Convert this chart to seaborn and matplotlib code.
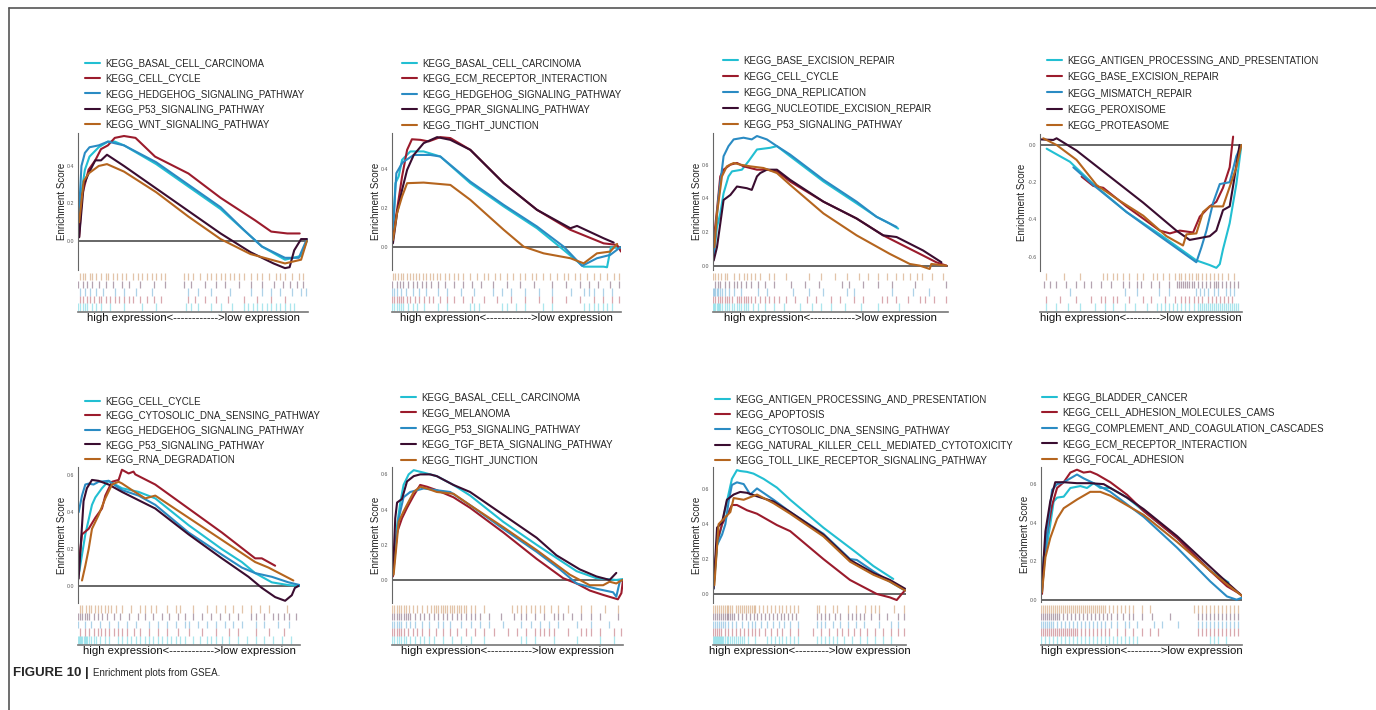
import matplotlib
matplotlib.use("Agg")
import matplotlib.pyplot as plt
import seaborn as sns
import pandas as pd
from matplotlib.lines import Line2D

sns.set_theme(style="white")
plt.rcParams['font.family'] = ['Liberation Sans', 'DejaVu Sans']

# ---------------- data ----------------
COLORS = ["#22BFD2", "#9B1B2C", "#2A8BC3", "#3A0D30", "#B5651E"]

P1_LABELS = ["KEGG_BASAL_CELL_CARCINOMA", "KEGG_CELL_CYCLE", "KEGG_HEDGEHOG_SIGNALING_PATHWAY",
             "KEGG_P53_SIGNALING_PATHWAY", "KEGG_WNT_SIGNALING_PATHWAY"]
P1_X = [[0.5, 1.5, 3, 5, 9, 13, 16, 20, 34, 48, 62, 71, 80, 90, 97, 99.5],
        [0.5, 1.7, 4.6, 7.5, 10, 13, 16, 20, 25, 33.5, 48, 62, 77, 84, 91, 96.4],
        [0.3, 1.5, 3, 5, 9, 13, 20, 34, 48, 62, 72, 80, 90, 96, 99.5],
        [0.5, 2.5, 4.6, 7.5, 10, 12.6, 20, 34, 48, 62, 75, 85, 90, 92, 94, 97, 99.5],
        [0.5, 2.5, 4.6, 9, 12.6, 20, 34, 48, 62, 75, 90, 97, 99.5]]
P1_ES = [[0.10, 0.26, 0.38, 0.45, 0.50, 0.53, 0.53, 0.51, 0.41, 0.29, 0.17, 0.07, -0.03, -0.10, -0.08, 0.00],
         [0.02, 0.24, 0.38, 0.43, 0.49, 0.51, 0.55, 0.56, 0.55, 0.45, 0.36, 0.23, 0.11, 0.05, 0.04, 0.04],
         [0.12, 0.40, 0.47, 0.50, 0.51, 0.53, 0.51, 0.42, 0.30, 0.18, 0.06, -0.03, -0.09, -0.09, 0.01],
         [0.02, 0.30, 0.36, 0.43, 0.43, 0.46, 0.40, 0.28, 0.16, 0.04, -0.06, -0.12, -0.145, -0.14, -0.05, 0.01, 0.01],
         [0.10, 0.32, 0.36, 0.40, 0.41, 0.37, 0.26, 0.13, 0.01, -0.07, -0.12, -0.10, 0.0]]
P1_RUG = [[0, 1, 2, 3, 4, 6, 8, 10, 14, 20, 28, 34, 47, 49, 52, 58, 62, 67, 72, 74, 76, 78, 80, 82, 84, 86, 88, 90, 92, 94],
          [1, 2, 4, 5, 7, 9, 10, 12, 14, 16, 18, 20, 22, 24, 27, 30, 33, 36, 48, 51, 55, 60, 65, 72, 78, 84, 90],
          [1, 3, 5, 8, 11, 16, 20, 25, 32, 48, 52, 58, 66, 75, 80, 84, 88, 93, 97, 99],
          [0, 2, 4, 6, 9, 12, 15, 19, 22, 27, 33, 38, 46, 49, 55, 60, 64, 70, 75, 80, 85, 89, 92, 95, 98],
          [1, 2, 3, 5, 6, 8, 10, 12, 13, 15, 17, 19, 21, 24, 26, 28, 30, 32, 34, 36, 38, 46, 48, 50, 53, 56, 58,
           60, 62, 64, 66, 68, 70, 72, 75, 78, 80, 83, 86, 88, 90, 93, 96, 98]]

P2_LABELS = ["KEGG_BASAL_CELL_CARCINOMA", "KEGG_ECM_RECEPTOR_INTERACTION", "KEGG_HEDGEHOG_SIGNALING_PATHWAY",
             "KEGG_PPAR_SIGNALING_PATHWAY", "KEGG_TIGHT_JUNCTION"]
P2_X = [[0.4, 1.5, 2.9, 4.4, 8.0, 13.8, 21.1, 34.2, 48.8, 63.3, 75.0, 83.7, 92.4, 93.9, 95.6, 99.7],
        [0.4, 2.2, 4.4, 6.6, 8.7, 12.4, 16.0, 21.1, 25.5, 34.2, 48.8, 63.3, 77.9, 92.4, 98.3, 100],
        [0.4, 1.9, 4.4, 5.1, 9.5, 16.7, 21.1, 34.2, 48.8, 63.3, 75.0, 83.0, 89.5, 95.3, 99.7],
        [0.4, 2.2, 4.4, 6.6, 9.5, 13.8, 19.7, 25.5, 34.2, 48.8, 63.3, 77.9, 80.8, 92.4, 96.8],
        [0.4, 2.2, 4.4, 6.6, 13.8, 25.5, 34.2, 48.8, 57.5, 66.2, 77.9, 83.7, 89.5, 95.3, 98.3]]
P2_ES = [[0.054, 0.327, 0.361, 0.446, 0.489, 0.489, 0.463, 0.327, 0.208, 0.097, -0.014, -0.099, -0.099, -0.102, 0.0, -0.005],
         [0.054, 0.191, 0.361, 0.497, 0.551, 0.548, 0.540, 0.562, 0.557, 0.497, 0.327, 0.191, 0.089, 0.020, 0.012, -0.022],
         [0.089, 0.378, 0.429, 0.437, 0.471, 0.471, 0.463, 0.335, 0.216, 0.106, 0.003, -0.095, -0.056, -0.039, 0.0],
         [0.020, 0.174, 0.293, 0.395, 0.471, 0.531, 0.562, 0.548, 0.497, 0.327, 0.191, 0.097, 0.109, 0.046, 0.024],
         [0.037, 0.174, 0.259, 0.327, 0.330, 0.318, 0.242, 0.089, 0.003, -0.031, -0.056, -0.082, -0.031, -0.022, 0.017]]
P2_RUG = [[0, 1, 2, 3, 4, 5, 7, 9, 11, 14, 20, 24, 34, 36, 38, 48, 50, 54, 58, 66, 70, 84, 86, 88, 90, 92, 94, 96],
          [0, 1, 2, 3, 4, 5, 6.5, 8, 10, 12, 14, 16, 18, 21, 24, 27, 31, 35, 40, 46, 52, 58, 64, 70, 76, 82, 88, 92, 96, 99],
          [0, 1, 2, 4, 6, 9, 12, 15, 20, 24, 30, 36, 44, 48, 52, 58, 64, 70, 78, 84, 86, 88, 92, 96],
          [0, 2, 3.5, 5, 7, 9, 11, 13, 15, 17, 20, 23, 27, 31, 35, 39, 44, 50, 56, 62, 70, 76, 82, 86, 90, 95, 99],
          [0.5, 1.5, 2.5, 4, 5, 6.5, 8, 9, 10.5, 12, 13.5, 15, 16.5, 18, 19.5, 21, 23, 25, 27, 29, 31, 34, 37, 40, 42,
           45, 47, 50, 53, 56, 58, 61, 63, 66, 69, 72, 75, 77, 80, 82, 85, 88, 91, 94, 97, 99]]

P3_LABELS = ["KEGG_BASE_EXCISION_REPAIR", "KEGG_CELL_CYCLE", "KEGG_DNA_REPLICATION",
             "KEGG_NUCLEOTIDE_EXCISION_REPAIR", "KEGG_P53_SIGNALING_PATHWAY"]
P3_X = [[0.3, 1.7, 3.1, 4.5, 6.6, 8.1, 12.3, 15.1, 18.7, 24.3, 27.2, 32.8, 47.0, 61.1, 69.6, 75.2, 78.8],
        [0.3, 1.7, 3.1, 4.5, 7.4, 10.2, 13.0, 18.7, 22.9, 27.2, 32.8, 47.0, 61.1, 72.4, 82.3, 89.4, 95.0, 99.3],
        [0.3, 2.4, 4.5, 6.6, 8.8, 13.0, 16.5, 18.7, 22.9, 27.2, 32.8, 47.0, 61.1, 69.6, 75.2, 78.1],
        [0.3, 1.7, 3.1, 4.5, 7.4, 10.2, 14.4, 16.5, 18.7, 20.1, 22.9, 27.2, 32.8, 47.0, 61.1, 72.4, 78.1, 89.4, 97.2],
        [0.6, 1.7, 3.8, 5.9, 8.8, 11.6, 15.8, 21.5, 27.2, 32.8, 47.0, 61.1, 75.2, 83.7, 88.0, 92.2, 92.9, 99.3]]
P3_ES = [[0.05, 0.23, 0.31, 0.43, 0.53, 0.56, 0.57, 0.62, 0.69, 0.70, 0.71, 0.65, 0.50, 0.37, 0.29, 0.25, 0.22],
         [0.15, 0.33, 0.53, 0.57, 0.60, 0.61, 0.59, 0.57, 0.57, 0.56, 0.50, 0.38, 0.28, 0.18, 0.11, 0.06, 0.02, 0.0],
         [0.07, 0.41, 0.65, 0.71, 0.75, 0.76, 0.75, 0.77, 0.75, 0.71, 0.66, 0.51, 0.38, 0.29, 0.25, 0.23],
         [0.03, 0.11, 0.25, 0.39, 0.42, 0.47, 0.46, 0.45, 0.53, 0.55, 0.57, 0.57, 0.51, 0.38, 0.28, 0.18, 0.17, 0.09, 0.02],
         [0.11, 0.31, 0.53, 0.59, 0.61, 0.60, 0.59, 0.58, 0.55, 0.48, 0.31, 0.18, 0.07, 0.01, 0.0, -0.02, 0.01, 0.0]]
P3_RUG = [[0, 0.5, 1, 1.5, 2, 2.5, 3, 4, 5, 6, 7, 8, 9, 10, 11, 12, 13, 14, 15, 17, 19, 22, 26, 30, 37, 42, 46, 50, 56, 63, 70, 79],
          [0, 1, 2, 3, 4, 5, 6, 7, 8, 10, 11, 12, 13, 14, 15, 16, 18, 20, 22, 24, 26, 28, 31, 35, 40, 44, 50, 54, 60, 64,
           72, 74, 78, 83, 88, 90, 94, 99],
          [0, 0.5, 1, 1.5, 2, 3, 4, 5, 7, 9, 12, 19, 23, 34, 41, 47, 57, 60, 76, 85, 92],
          [1, 2, 3, 5, 7, 9, 10, 12, 14, 16, 19, 22, 26, 33, 39, 45, 55, 58, 64, 70, 76, 86, 99],
          [0, 1, 2, 3.5, 5, 6, 9, 11, 13, 14.5, 16, 18, 20, 24, 26, 31, 41, 46, 52, 57, 62, 66, 70, 74, 78, 81, 84,
           87, 89, 93, 98]]

P4_LABELS = ["KEGG_ANTIGEN_PROCESSING_AND_PRESENTATION", "KEGG_BASE_EXCISION_REPAIR", "KEGG_MISMATCH_REPAIR",
             "KEGG_PEROXISOME", "KEGG_PROTEASOME"]
P4_X = [[3.3, 8.2, 14.8, 26.4, 42.8, 59.3, 77.4, 84.0, 87.3, 89.0, 90.6, 93.9, 97.2, 99.7],
        [20.6, 26.4, 31.3, 42.8, 59.3, 64.3, 69.2, 75.8, 79.1, 84.0, 87.3, 90.6, 93.9, 95.6],
        [16.5, 26.4, 42.8, 59.3, 77.4, 79.9, 82.4, 85.7, 89.0, 93.9, 97.2, 99.7],
        [0, 6.6, 8.2, 18.1, 34.6, 51.1, 67.5, 74.1, 79.1, 84.0, 87.3, 90.6, 93.9, 95.6, 98.8],
        [1.6, 8.2, 18.1, 28.0, 39.5, 51.1, 62.6, 70.8, 72.5, 77.4, 80.7, 84.0, 90.6, 94.7, 97.2, 99.7]]
P4_ES = [[-0.02, -0.05, -0.09, -0.21, -0.36, -0.48, -0.62, -0.645, -0.66, -0.64, -0.56, -0.42, -0.21, 0.0],
         [-0.17, -0.22, -0.23, -0.33, -0.46, -0.475, -0.46, -0.47, -0.385, -0.33, -0.305, -0.23, -0.12, 0.045],
         [-0.12, -0.215, -0.36, -0.49, -0.63, -0.55, -0.46, -0.31, -0.21, -0.20, -0.06, 0.0],
         [0.03, 0.027, 0.036, -0.03, -0.17, -0.31, -0.46, -0.51, -0.50, -0.49, -0.46, -0.35, -0.33, -0.22, 0.0],
         [0.036, 0.0, -0.08, -0.215, -0.30, -0.38, -0.49, -0.54, -0.48, -0.475, -0.36, -0.33, -0.33, -0.20, -0.12, 0.0]]
P4_RUG = [[3, 8, 14, 20, 27, 32, 36, 42, 47, 53, 58, 60, 62, 64, 66, 68, 70, 72, 74, 76, 78, 79, 80, 81, 82, 83, 84, 85,
           86, 87, 88, 89, 90, 91, 92, 93, 94, 95, 96, 97, 98],
          [3, 10, 18, 25, 30, 32, 36, 38, 44, 51, 55, 62, 67, 70, 72, 74, 76, 78, 80, 83, 85, 87, 89, 91, 93, 95],
          [15, 42, 48, 59, 64, 77, 79, 81, 83, 86, 88, 92, 94, 96],
          [2, 5, 8, 13, 18, 22, 25, 30, 35, 41, 44, 48, 50, 55, 59, 64, 68, 69, 70, 71, 72, 73, 74, 75, 76, 78, 80, 82,
           84, 86, 87, 88, 90, 92, 94, 96, 98],
          [3, 12, 20, 31, 33, 36, 38, 41, 44, 48, 51, 56, 58, 61, 64, 67, 69, 70, 72, 74, 75, 77, 78, 80, 82, 84, 86, 88,
           90, 93, 96]]

P5_LABELS = ["KEGG_CELL_CYCLE", "KEGG_CYTOSOLIC_DNA_SENSING_PATHWAY", "KEGG_HEDGEHOG_SIGNALING_PATHWAY",
             "KEGG_P53_SIGNALING_PATHWAY", "KEGG_RNA_DEGRADATION"]
P5_X = [[0.6, 3.3, 6.3, 7.8, 10.8, 13.8, 19.8, 27.3, 34.8, 49.8, 64.8, 73.8, 79.8, 87.3, 94.8, 100],
        [0.3, 1.8, 4.8, 7.8, 10.8, 12.3, 15.3, 18.3, 19.8, 22.8, 25.0, 25.8, 34.8, 49.8, 64.8, 79.8, 82.8, 88.8],
        [0.3, 1.8, 3.3, 4.8, 7.0, 9.3, 13.8, 19.8, 27.3, 34.8, 49.8, 64.8, 73.8, 79.8, 87.3, 94.8, 100],
        [0.3, 2.5, 4.0, 6.3, 9.3, 13.8, 19.8, 34.8, 49.8, 64.8, 76.8, 82.8, 88.8, 93.3, 96.3, 97.7, 99.3],
        [1.8, 3.3, 4.8, 6.3, 9.3, 12.3, 15.3, 18.3, 19.8, 24.3, 30.3, 34.8, 49.8, 64.8, 79.8, 85.8, 97.0]]
P5_ES = [[0.08, 0.28, 0.44, 0.48, 0.53, 0.57, 0.53, 0.51, 0.475, 0.33, 0.20, 0.13, 0.07, 0.02, 0.005, 0.0],
         [0.11, 0.28, 0.31, 0.37, 0.42, 0.49, 0.565, 0.575, 0.63, 0.61, 0.62, 0.605, 0.55, 0.42, 0.29, 0.15, 0.15, 0.11],
         [0.40, 0.49, 0.55, 0.555, 0.55, 0.565, 0.57, 0.52, 0.49, 0.44, 0.29, 0.17, 0.10, 0.07, 0.05, 0.02, 0.005],
         [0.04, 0.46, 0.53, 0.575, 0.57, 0.55, 0.51, 0.42, 0.28, 0.15, 0.05, -0.01, -0.06, -0.08, -0.05, -0.01, 0.0],
         [0.03, 0.11, 0.20, 0.31, 0.385, 0.475, 0.55, 0.565, 0.556, 0.52, 0.475, 0.49, 0.37, 0.25, 0.13, 0.10, 0.03]]
P5_RUG = [[0, 0.5, 1, 1.5, 2, 2.5, 3, 3.5, 4, 5, 6, 7, 8, 10, 12, 14, 18, 20, 22, 24, 26, 28, 30, 32, 34, 36, 38, 40,
           42, 44, 46, 48, 52, 55, 58, 60, 62, 65, 68, 72, 76, 80, 84, 88, 92, 96],
          [1, 3, 5, 7, 9, 10.5, 12, 14, 16, 18, 20, 22, 25, 28, 32, 36, 40, 45, 50, 56, 62, 68, 72, 80, 86, 93],
          [0, 3, 6, 10, 14, 18, 22, 26, 32, 36, 40, 44, 48, 50, 54, 58, 62, 66, 70, 74, 80, 84, 90, 95],
          [0, 1, 2, 3, 4, 5, 7, 9, 11, 13, 16, 19, 23, 27, 30, 34, 38, 41, 45, 48, 52, 56, 60, 64, 68, 72, 78, 80, 84,
           88, 90, 93, 95, 98],
          [1, 2, 3.5, 5, 6, 7.5, 9, 10.5, 12, 13.5, 15, 17, 20, 24, 28, 30, 33, 35, 40, 44, 46, 52, 58, 62, 66, 70, 74,
           78, 82, 86, 94]]

P6_LABELS = ["KEGG_BASAL_CELL_CARCINOMA", "KEGG_MELANOMA", "KEGG_P53_SIGNALING_PATHWAY",
             "KEGG_TGF_BETA_SIGNALING_PATHWAY", "KEGG_TIGHT_JUNCTION"]
P6_X = [[0.4, 2.2, 3.6, 5.0, 7.2, 9.4, 13.7, 19.4, 26.6, 33.8, 48.2, 62.6, 74.1, 79.9, 88.5, 97.1, 100],
        [0.4, 2.2, 4.3, 6.5, 9.4, 12.2, 15.1, 19.4, 26.6, 33.8, 48.2, 62.6, 74.1, 79.9, 85.6, 91.4, 97.8, 99.3, 100],
        [0.4, 2.9, 5.0, 7.9, 13.7, 19.4, 25.2, 33.8, 48.2, 62.6, 72.7, 79.9, 88.5, 95.7, 97.1, 98.6, 99.7],
        [0.4, 1.4, 2.2, 4.3, 6.5, 9.4, 12.2, 16.5, 19.4, 26.6, 33.8, 48.2, 62.6, 71.2, 81.3, 88.5, 94.2, 97.1],
        [0.7, 2.9, 5.0, 7.2, 9.4, 12.2, 15.1, 19.4, 26.6, 33.8, 48.2, 62.6, 77.0, 85.6, 91.4, 94.2, 97.1, 99.7]]
P6_ES = [[0.05, 0.31, 0.44, 0.54, 0.60, 0.624, 0.61, 0.59, 0.54, 0.48, 0.33, 0.20, 0.10, 0.05, 0.01, 0.0, 0.005],
         [0.02, 0.27, 0.35, 0.41, 0.48, 0.54, 0.53, 0.51, 0.47, 0.41, 0.27, 0.12, 0.01, -0.02, -0.06, -0.085, -0.11, -0.075, 0.0],
         [0.05, 0.35, 0.47, 0.50, 0.52, 0.51, 0.50, 0.425, 0.29, 0.16, 0.06, -0.02, -0.05, -0.07, -0.095, -0.01, 0.0],
         [0.03, 0.35, 0.44, 0.46, 0.56, 0.59, 0.60, 0.60, 0.59, 0.54, 0.50, 0.37, 0.24, 0.14, 0.06, 0.02, 0.0, 0.04],
         [0.03, 0.33, 0.39, 0.445, 0.50, 0.53, 0.52, 0.50, 0.49, 0.425, 0.30, 0.17, 0.03, -0.03, -0.03, -0.01, -0.02, 0.0]]
P6_RUG = [[0, 1, 2, 3, 4, 5, 6, 8, 10, 12, 14, 16, 18, 22, 26, 30, 34, 40, 56, 58, 62, 70, 80, 90, 96],
          [0, 1, 2, 3, 4, 5, 7, 9, 11, 13, 16, 19, 22, 25, 28, 32, 36, 40, 44, 50, 54, 58, 62, 64, 66, 68, 70, 76, 82,
           84, 86, 90, 96, 99],
          [0, 1, 2, 3, 4, 6, 8, 10, 13, 16, 20, 22, 25, 30, 34, 38, 42, 48, 56, 60, 64, 68, 72, 80, 86, 94],
          [0, 1, 2, 3, 4, 5, 6, 7, 8, 10, 12, 14, 16, 18, 20, 22, 24, 26, 28, 30, 32, 34, 36, 38, 42, 47, 53, 56, 58,
           62, 66, 70, 72, 74, 78, 82, 86, 90, 98],
          [0, 1, 2, 3, 4, 5, 6, 7.5, 9, 11, 13, 15, 17, 18, 19, 20, 21, 22, 23, 24, 25, 26, 27, 28, 29, 30, 31, 32, 34,
           36, 40, 52, 54, 56, 58, 60, 62, 64, 66, 69, 72, 76, 82, 86, 92, 98]]

P7_LABELS = ["KEGG_ANTIGEN_PROCESSING_AND_PRESENTATION", "KEGG_APOPTOSIS", "KEGG_CYTOSOLIC_DNA_SENSING_PATHWAY",
             "KEGG_NATURAL_KILLER_CELL_MEDIATED_CYTOTOXICITY", "KEGG_TOLL_LIKE_RECEPTOR_SIGNALING_PATHWAY"]
P7_X = [[0.3, 2.1, 4.7, 7.2, 9.8, 12.4, 14.1, 17.6, 21.0, 26.2, 33.1, 40.0, 57.2, 74.5, 83.1, 93.4],
        [0.3, 2.1, 4.7, 7.2, 9.8, 12.4, 17.6, 22.8, 33.1, 40.0, 57.2, 71.0, 77.9, 84.8, 91.7, 95.2, 97.8, 99.5],
        [0.3, 2.1, 4.7, 6.4, 8.1, 9.8, 12.4, 15.9, 19.3, 22.8, 31.4, 40.0, 57.2, 71.0, 74.5, 83.1, 91.7, 99.5],
        [0.3, 2.1, 4.7, 7.2, 10.7, 14.1, 17.6, 22.8, 31.4, 40.0, 57.2, 71.0, 83.1, 91.7, 99.5],
        [0.7, 2.9, 5.5, 9.0, 10.7, 15.9, 22.8, 31.4, 40.0, 57.2, 71.0, 83.1, 91.7, 99.5]]
P7_ES = [[0.05, 0.28, 0.40, 0.53, 0.66, 0.71, 0.705, 0.70, 0.69, 0.66, 0.61, 0.54, 0.38, 0.235, 0.16, 0.086],
         [0.05, 0.30, 0.40, 0.45, 0.51, 0.51, 0.48, 0.46, 0.395, 0.36, 0.20, 0.08, 0.04, 0.0, -0.02, -0.035, 0.0, 0.02],
         [0.03, 0.28, 0.34, 0.40, 0.53, 0.625, 0.64, 0.63, 0.57, 0.605, 0.54, 0.47, 0.345, 0.20, 0.195, 0.13, 0.07, 0.02],
         [0.03, 0.38, 0.41, 0.54, 0.57, 0.585, 0.58, 0.56, 0.53, 0.47, 0.34, 0.195, 0.12, 0.08, 0.03],
         [0.05, 0.40, 0.43, 0.47, 0.55, 0.54, 0.57, 0.52, 0.46, 0.33, 0.185, 0.11, 0.07, 0.02]]
P7_RUG = [[0, 0.5, 1, 1.5, 2, 2.5, 3, 3.5, 4, 4.5, 5, 6, 7, 8, 9, 10, 11, 12, 13, 14, 15, 16, 18, 22, 28, 30, 32, 34,
           36, 38, 40, 42, 44, 54, 56, 58, 60, 62, 64, 68, 72, 76, 80, 84, 88, 92],
          [0, 1, 2, 3, 4, 6, 8, 10, 12, 14, 16, 18, 20, 22, 24, 27, 30, 33, 36, 40, 44, 52, 56, 60, 64, 67, 70, 73, 76,
           80, 84, 88, 92, 96, 99],
          [0, 1, 2, 3, 4, 5, 6, 8, 10, 12, 15, 18, 20, 22, 25, 28, 31, 34, 37, 40, 44, 54, 56, 58, 62, 66, 70, 74, 78,
           86, 92, 96],
          [0, 1, 2, 3, 4, 5, 6, 7, 8, 9, 10, 11, 13, 15, 17, 19, 21, 23, 25, 27, 29, 31, 33, 35, 37, 39, 41, 43, 54, 56,
           58, 60, 63, 66, 70, 72, 74, 76, 78, 82, 86, 90, 96, 99],
          [0, 1, 2, 3, 4, 5, 6, 7, 8, 9, 10, 12, 13, 14, 15, 16, 17, 18, 19, 20, 21, 22, 24, 26, 28, 30, 32, 34, 36, 38,
           40, 42, 44, 54, 55, 58, 62, 64, 70, 74, 79, 82, 84, 86, 94, 99]]

P8_LABELS = ["KEGG_BLADDER_CANCER", "KEGG_CELL_ADHESION_MOLECULES_CAMS", "KEGG_COMPLEMENT_AND_COAGULATION_CASCADES",
             "KEGG_ECM_RECEPTOR_INTERACTION", "KEGG_FOCAL_ADHESION"]
P8_X = [[0.5, 1.3, 3.0, 4.6, 6.3, 8.0, 11.3, 14.6, 19.6, 22.9, 26.2, 29.5, 34.5, 42.8, 51.1, 67.7, 84.2, 93.3],
        [0.5, 2.2, 3.8, 5.5, 8.0, 11.3, 14.6, 17.9, 21.2, 24.5, 27.9, 34.5, 42.8, 51.1, 67.7, 84.2, 92.5, 99.0],
        [0.5, 2.2, 3.8, 5.5, 8.0, 11.3, 14.6, 17.9, 21.2, 26.2, 34.5, 51.1, 67.7, 84.2, 92.5, 97.3, 100],
        [0.5, 2.2, 4.6, 7.1, 11.3, 17.9, 24.5, 31.2, 34.5, 42.8, 51.1, 67.7, 84.2, 92.5, 100],
        [0.5, 2.2, 4.6, 8.0, 11.3, 17.9, 24.5, 29.5, 34.5, 42.8, 51.1, 67.7, 84.2, 92.5, 100]]
P8_ES = [[0.04, 0.22, 0.285, 0.39, 0.51, 0.53, 0.535, 0.58, 0.59, 0.58, 0.605, 0.58, 0.58, 0.53, 0.46, 0.32, 0.15, 0.09],
         [0.03, 0.30, 0.39, 0.49, 0.58, 0.61, 0.66, 0.675, 0.66, 0.665, 0.65, 0.61, 0.545, 0.46, 0.32, 0.15, 0.07, 0.03],
         [0.06, 0.25, 0.42, 0.57, 0.60, 0.61, 0.63, 0.65, 0.63, 0.605, 0.56, 0.43, 0.27, 0.095, 0.017, 0.0, 0.01],
         [0.08, 0.355, 0.51, 0.61, 0.61, 0.605, 0.605, 0.60, 0.58, 0.53, 0.47, 0.33, 0.17, 0.09, 0.02],
         [0.04, 0.22, 0.32, 0.42, 0.475, 0.52, 0.56, 0.56, 0.54, 0.49, 0.44, 0.30, 0.15, 0.08, 0.02]]
P8_RUG = [[0, 2, 4, 6, 8, 10, 12, 14, 16, 18, 20, 22, 24, 26, 28, 30, 32, 34, 36, 38, 40, 42, 44, 46, 48, 84, 86, 88, 92],
          [0, 1, 2, 3, 4, 5, 6, 7, 8, 9, 10, 11, 12, 13, 14, 15, 16, 17, 18, 20, 22, 24, 26, 28, 30, 32, 34, 38, 42, 46,
           50, 54, 58, 78, 80, 82, 84, 86, 88, 90, 92, 94, 96, 98],
          [0, 1, 2, 3, 4, 5, 6, 8, 10, 12, 14, 16, 18, 20, 22, 24, 26, 28, 30, 32, 35, 38, 42, 44, 48, 56, 60, 68, 78,
           80, 82, 84, 86, 88, 90, 92, 94, 96, 98],
          [0, 1, 2, 3, 4, 5, 6, 7, 8, 9, 11, 13, 15, 17, 19, 21, 23, 25, 27, 29, 31, 33, 35, 38, 41, 44, 46, 50, 55, 64,
           78, 80, 82, 84, 86, 88, 90, 92, 94, 96, 98],
          [0, 1, 2, 3, 4, 5, 6, 7, 8, 9, 10, 11, 12, 13, 14, 15, 16, 17, 18, 19, 20, 21, 22, 23, 24, 25, 26, 27, 28, 29,
           30, 31, 32, 34, 36, 38, 40, 42, 44, 46, 50, 54, 76, 78, 80, 82, 84, 86, 88, 90, 92, 94, 96, 98]]

XLAB_LONG = "high expression<------------>low expression"
XLAB_SHORT = "high expression<--------->low expression"
CAPTION_BOLD = "FIGURE 10 |"
CAPTION_TEXT = "Enrichment plots from GSEA."

# ---------------- layout (pixels) ----------------
W, H = 1376, 710
fig = plt.figure(figsize=(W / 100, H / 100), dpi=100)
fig.patch.set_facecolor("white")


def rect(x0, y0, x1, y1):
    return [x0 / W, 1 - y1 / H, (x1 - x0) / W, (y1 - y0) / H]


def draw_panel(labels, xs, ess, rugs, es_box, ylim, yticks, rug_box, leg_xy, leg_sp, xlab):
    ax = fig.add_axes(rect(*es_box))
    frames = [pd.DataFrame({"rank": x, "es": e, "set": lab}) for x, e, lab in zip(xs, ess, labels)]
    df = pd.concat(frames, ignore_index=True)
    ax.axhline(0, color="#4d4d4d", lw=1.2, zorder=0)
    sns.lineplot(data=df, x="rank", y="es", hue="set", hue_order=labels, palette=COLORS,
                 estimator=None, sort=False, lw=1.5, ax=ax, legend=False)
    ax.set_xlim(0, 100)
    ax.set_ylim(*ylim)
    ax.set_xticks([])
    ax.set_yticks(yticks)
    ax.set_yticklabels([f"{t:.1f}" for t in yticks], fontsize=3.8, color="#555555")
    ax.tick_params(axis="y", length=1.5, width=0.5, pad=1, color="#555555")
    ax.set_xlabel("")
    ax.set_ylabel("Enrichment Score", fontsize=7, labelpad=0.3, color="#222222")
    for s in ["top", "right", "bottom"]:
        ax.spines[s].set_visible(False)
    ax.spines["left"].set_color("#666666")
    ax.spines["left"].set_linewidth(0.8)
    ax.patch.set_alpha(0)
    handles = [Line2D([0], [0], color=c, lw=1.5) for c in COLORS]
    ax.legend(handles, labels, loc="upper left", bbox_to_anchor=(leg_xy[0] / W, 1 - leg_xy[1] / H),
              bbox_transform=fig.transFigure, frameon=False, fontsize=7, handlelength=1.5,
              handletextpad=0.55, labelspacing=leg_sp, borderpad=0, borderaxespad=0)

    rax = fig.add_axes(rect(*rug_box))
    for i, (pos, c) in enumerate(zip(rugs, COLORS)):
        rax.vlines(pos, i + 0.02, i + 0.98, color=c, alpha=0.38, lw=0.9)
    rax.set_xlim(0, 100)
    rax.set_ylim(-0.15, 5)
    rax.set_xticks([])
    rax.set_yticks([])
    for s in ["top", "right", "left"]:
        rax.spines[s].set_visible(False)
    rax.spines["bottom"].set_color("#777777")
    rax.spines["bottom"].set_linewidth(1.2)
    rax.set_xlabel(xlab, fontsize=8.2, labelpad=0.5, color="#111111")
    rax.patch.set_alpha(0)


draw_panel(P1_LABELS, P1_X, P1_ES, P1_RUG, (78, 133, 308, 270), (-0.155, 0.576), [0.0, 0.2, 0.4],
           (78, 273, 308, 312), (85, 58), 0.55, XLAB_LONG)
draw_panel(P2_LABELS, P2_X, P2_ES, P2_RUG, (392, 133, 621, 270), (-0.116, 0.583), [0.0, 0.2, 0.4],
           (392, 273, 621, 312), (402, 58), 0.57, XLAB_LONG)
draw_panel(P3_LABELS, P3_X, P3_ES, P3_RUG, (713, 133, 948, 270), (-0.026, 0.788), [0.0, 0.2, 0.4, 0.6],
           (713, 273, 948, 312), (723, 55), 0.63, XLAB_LONG)
draw_panel(P4_LABELS, P4_X, P4_ES, P4_RUG, (1040, 134, 1242, 271), (-0.677, 0.059), [-0.6, -0.4, -0.2, 0.0],
           (1040, 273, 1242, 312), (1047, 55), 0.65, XLAB_SHORT)
draw_panel(P5_LABELS, P5_X, P5_ES, P5_RUG, (78, 467, 300, 603), (-0.092, 0.645), [0.0, 0.2, 0.4, 0.6],
           (78, 605, 300, 645), (85, 396), 0.47, XLAB_LONG)
draw_panel(P6_LABELS, P6_X, P6_ES, P6_RUG, (392, 467, 623, 603), (-0.131, 0.642), [0.0, 0.2, 0.4, 0.6],
           (392, 605, 623, 645), (401, 392), 0.6, XLAB_LONG)
draw_panel(P7_LABELS, P7_X, P7_ES, P7_RUG, (713, 467, 906, 603), (-0.052, 0.728), [0.0, 0.2, 0.4, 0.6],
           (713, 605, 906, 645), (715, 394), 0.55, XLAB_SHORT)
draw_panel(P8_LABELS, P8_X, P8_ES, P8_RUG, (1041, 467, 1242, 602), (-0.012, 0.689), [0.0, 0.2, 0.4, 0.6],
           (1041, 605, 1242, 645), (1042, 392), 0.57, XLAB_SHORT)

# frame lines of the figure box
fig.add_artist(Line2D([9 / W, 1], [1 - 8 / H, 1 - 8 / H], transform=fig.transFigure, color="#555555", lw=1.2))
fig.add_artist(Line2D([9 / W, 9 / W], [0, 1 - 8 / H], transform=fig.transFigure, color="#555555", lw=1.2))

# caption
t1 = fig.text(13 / W, 1 - 673 / H, CAPTION_BOLD, fontsize=9.5, fontweight="bold", va="center", ha="left")
fig.canvas.draw()
bb = t1.get_window_extent()
fig.text((bb.x1 + 4) / W, 1 - 673 / H, CAPTION_TEXT, fontsize=7.0, va="center", ha="left")

fig.savefig("out.png", dpi=100)
